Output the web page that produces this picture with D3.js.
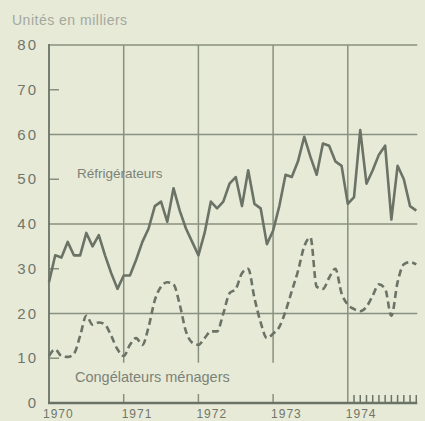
<!DOCTYPE html>
<html>
<head>
<meta charset="utf-8">
<script src="https://cdn.jsdelivr.net/npm/d3@7"></script>
<style>
  html, body { margin: 0; padding: 0; background: #e8eAd8; }
  svg { display: block; }
  text { font-family: "Liberation Sans", Arial, sans-serif; }
</style>
</head>
<body>
<div id="chart"></div>
<script>
// Monthly sales, Jan 1970 - Dec 1974 (thousands of units)
var years = [1970, 1971, 1972, 1973, 1974];
var yTicks = [0, 10, 20, 30, 40, 50, 60, 70, 80];
var gridValues = [20, 40, 60, 80];

var refrigerateurs = [
  27, 33, 32.5, 36, 33, 33, 38, 35, 37.5, 33, 29, 25.5,
  28.5, 28.5, 32, 36, 39, 44, 45, 40.5, 48, 43, 39, 36,
  33, 38, 45, 43.5, 45, 49, 50.5, 44, 52, 44.5, 43.5, 35.5,
  38.5, 44, 51, 50.5, 54, 59.5, 55, 51, 58, 57.5, 54, 53,
  44.5, 46, 61, 49, 52, 55.5, 57.5, 41, 53, 50, 44, 43
];

var congelateurs = [
  10.5, 12, 10.5, 10.3, 11, 15, 19.5, 17.5, 18, 17.5, 15, 12,
  10.5, 13, 14.5, 13, 17, 23, 26, 27, 26.5, 22, 16, 13.5,
  13, 14.5, 16, 16, 20, 24.5, 25.5, 29, 30, 23.5, 18, 14.5,
  15.5, 17, 20.5, 25, 29.5, 35, 37, 26, 25.5, 28, 30, 24.5,
  22, 21, 20.5, 21.5, 24, 26.5, 25.5, 19.5, 27, 31, 31.5, 31
];

var w = 425, h = 421;
var ink = "#6a7366", grid = "#88917f", txt = "#7b8277";

var svg = d3.select("#chart").append("svg")
  .attr("width", w)
  .attr("height", h);

// month index -> x, value -> y
var x = d3.scaleLinear().domain([0, 60]).range([49, 422.5]);
var y = d3.scaleLinear().domain([0, 80]).range([403, 45]);
var lastMonth = 59;

// horizontal grid lines
svg.selectAll(".hgrid")
  .data(gridValues)
.enter().append("line")
  .attr("class", "hgrid")
  .attr("x1", x(0))
  .attr("x2", x(lastMonth) + 1)
  .attr("y1", y)
  .attr("y2", y)
  .style("stroke", grid)
  .style("stroke-width", 1.5);

// small ticks on the left axis for odd tens
svg.selectAll(".ytick")
  .data(yTicks.filter(function(d) { return d % 20 == 10; }))
.enter().append("line")
  .attr("x1", x(0))
  .attr("x2", x(0) + 10)
  .attr("y1", y)
  .attr("y2", y)
  .style("stroke", grid)
  .style("stroke-width", 1.5);

// year verticals, broken by the lower label except for 1974
var yearLines = years.slice(1);
svg.selectAll(".vgrid")
  .data(yearLines)
.enter().append("line")
  .attr("x1", function(d) { return x((d - 1970) * 12); })
  .attr("x2", function(d) { return x((d - 1970) * 12); })
  .attr("y1", y(80))
  .attr("y2", function(d) { return d == 1974 ? y(0) : y(9); })
  .style("stroke", grid)
  .style("stroke-width", 1.5);

svg.selectAll(".vtick")
  .data(yearLines.filter(function(d) { return d != 1974; }))
.enter().append("line")
  .attr("x1", function(d) { return x((d - 1970) * 12); })
  .attr("x2", function(d) { return x((d - 1970) * 12); })
  .attr("y1", y(0) - 9)
  .attr("y2", y(0))
  .style("stroke", grid)
  .style("stroke-width", 1.5);

// monthly ticks for 1974
svg.selectAll(".mtick")
  .data(d3.range(49, 60))
.enter().append("line")
  .attr("x1", x)
  .attr("x2", x)
  .attr("y1", y(0) - 8)
  .attr("y2", y(0))
  .style("stroke", ink)
  .style("stroke-width", 1.5);

// axes lines
svg.append("line")
  .attr("x1", x(0)).attr("x2", x(0))
  .attr("y1", y(80) - 1).attr("y2", y(0))
  .style("stroke", ink)
  .style("stroke-width", 1.8);

svg.append("line")
  .attr("x1", x(0) - 1).attr("x2", x(lastMonth) + 1)
  .attr("y1", y(0)).attr("y2", y(0))
  .style("stroke", ink)
  .style("stroke-width", 2.5);

// y labels
svg.selectAll(".ylabel")
  .data(yTicks)
.enter().append("text")
  .attr("x", 38)
  .attr("y", function(d) { return y(d) + 5; })
  .attr("text-anchor", "end")
  .style("font-size", "15px")
  .style("letter-spacing", "2px")
  .style("fill", "#6f766b")
  .text(String);

// year labels
svg.selectAll(".xlabel")
  .data(years)
.enter().append("text")
  .attr("x", function(d) { return x((d - 1970) * 12) - (d == 1970 ? 6 : 2); })
  .attr("y", 418)
  .style("font-size", "12px")
  .style("letter-spacing", "1px")
  .style("fill", "#6f766b")
  .text(String);

svg.append("text")
  .attr("x", 12)
  .attr("y", 25)
  .style("font-size", "14px")
  .style("letter-spacing", "0.5px")
  .style("fill", "#a3a89d")
  .text("Unités en milliers");

// series
var line = d3.line()
  .x(function(d, i) { return x(i); })
  .y(function(d) { return y(d); });

svg.append("path")
  .datum(refrigerateurs)
  .attr("d", line)
  .style("fill", "none")
  .style("stroke", ink)
  .style("stroke-width", 2.6)
  .style("stroke-linejoin", "round");

svg.append("path")
  .datum(congelateurs)
  .attr("d", line.curve(d3.curveMonotoneX))
  .style("fill", "none")
  .style("stroke", ink)
  .style("stroke-width", 2.6)
  .style("stroke-dasharray", "7,4");

svg.append("text")
  .attr("x", 77)
  .attr("y", 178)
  .style("font-size", "13.5px")
  .style("fill", txt)
  .text("Réfrigérateurs");

svg.append("text")
  .attr("x", 75)
  .attr("y", 382)
  .style("font-size", "14.5px")
  .style("fill", txt)
  .text("Congélateurs ménagers");
</script>
</body>
</html>
